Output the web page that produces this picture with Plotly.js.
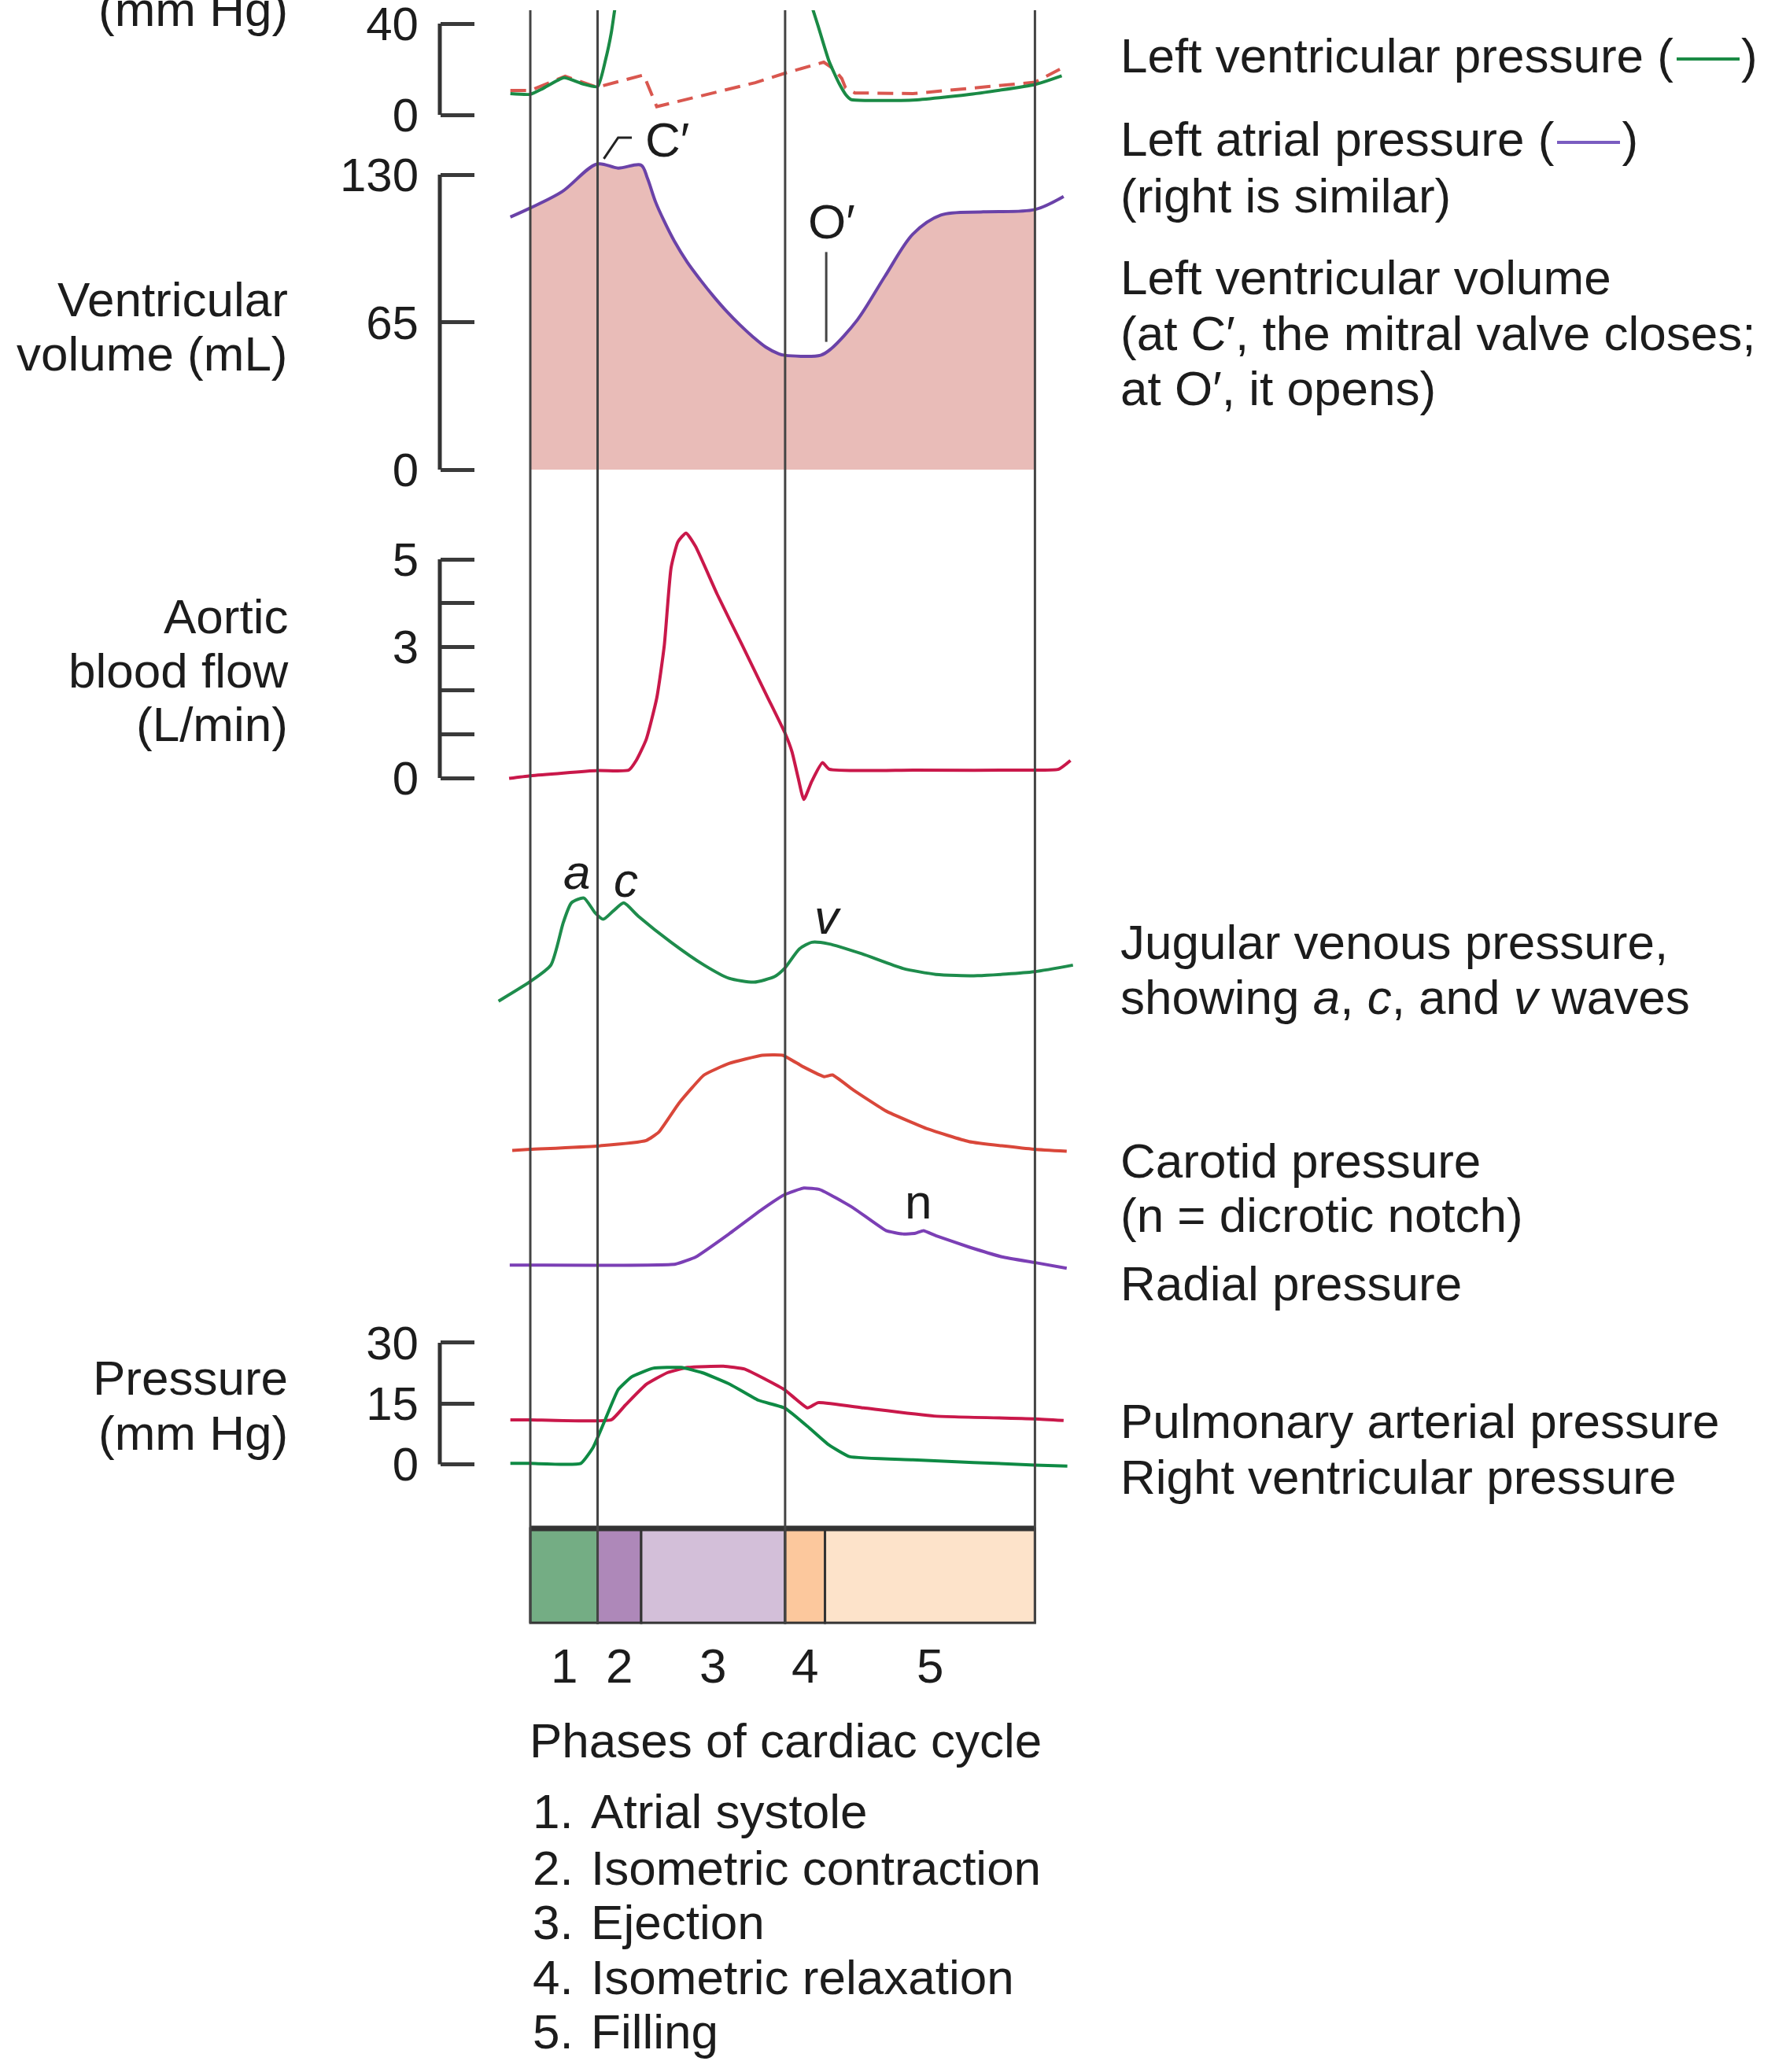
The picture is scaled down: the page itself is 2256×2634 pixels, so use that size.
<!DOCTYPE html>
<html><head><meta charset="utf-8">
<script src="https://cdn.plot.ly/plotly-3.0.1.min.js"></script>
<style>html,body{margin:0;padding:0;background:#fff}#chart{width:2256px;height:2634px}</style>
</head><body><div id="chart"></div>
<script>
// ---------- DATA (time in ms from start of atrial systole) ----------
const phaseBounds = [0, 108, 178, 409, 473, 810];
const phaseNums = ['1', '2', '3', '4', '5'];
const phaseNames = ['Atrial systole', 'Isometric contraction', 'Ejection', 'Isometric relaxation', 'Filling'];

// Left ventricular pressure (mm Hg)
const lvpT = [-32, 0, 20, 54, 85, 108, 121, 130, 136, 160, 200, 260, 330, 400, 435, 454, 462, 471, 479, 488, 496, 506, 515, 540, 614, 700, 810, 853];
const lvpV = [9.3, 9, 11.5, 16.3, 13.5, 12.4, 24.4, 36, 47, 85, 112, 122, 116, 96, 62, 45.8, 38.9, 30.8, 23.9, 18.2, 13.6, 9, 6.7, 6.3, 6.5, 8.8, 13.3, 17.1];
// Left atrial pressure (mm Hg)
const lapT = [-32, 0, 56, 107, 182, 203, 361, 408, 471, 488, 500, 506, 521, 614, 810, 850];
const lapV = [10.7, 10.7, 16.9, 12.1, 17.5, 3.6, 14.1, 18.2, 23.1, 19.9, 15.9, 11.8, 9.6, 9.3, 14.3, 20];
// Left ventricular volume (mL)
const volT = [-32, 0, 51, 107, 141, 178, 188, 201, 214, 231, 252, 273, 294, 315, 336, 357, 378, 399, 408, 466, 483, 525, 569, 614, 659, 727, 810, 856];
const volV = [111.3, 115.3, 122.5, 134.7, 132.9, 134.2, 128.4, 118, 110, 100.8, 91.4, 83.6, 76.4, 69.8, 63.9, 58.6, 54, 51, 50.4, 50.4, 53.3, 66, 85.1, 103.8, 112.2, 113.6, 114.6, 120.4];
// Aortic blood flow (L/min)
const aoT = [-34, 0, 108, 158, 170, 186, 203, 215, 226, 237, 250, 265, 300, 340, 380, 409, 420, 430, 439, 452, 469, 480, 616, 812, 848, 867];
const aoV = [-0.01, 0.05, 0.17, 0.18, 0.4, 0.88, 1.83, 3.02, 4.81, 5.4, 5.6, 5.3, 4.2, 3.04, 1.87, 1.02, 0.6, 0.0, -0.49, -0.07, 0.35, 0.2, 0.18, 0.18, 0.2, 0.4];
// Jugular venous pressure (relative units)
const jvpT = [-51, 0, 33, 53, 66, 86, 104, 117, 133, 150, 173, 226, 279, 319, 359, 392, 408, 432, 452, 479, 532, 598, 651, 718, 809, 871];
const jvpV = [0.24, 1.73, 2.97, 6.2, 7.68, 8.05, 6.93, 6.44, 7.06, 7.68, 6.69, 4.7, 2.97, 1.97, 1.68, 2.1, 2.72, 4.2, 4.7, 4.58, 3.83, 2.72, 2.27, 2.17, 2.47, 2.97];
// Carotid pressure (relative units)
const carT = [-29, 0, 106, 186, 206, 239, 279, 319, 372, 405, 438, 472, 485, 518, 571, 638, 704, 809, 861];
const carV = [0.95, 1.03, 1.28, 1.7, 2.32, 4.55, 6.66, 7.53, 8.15, 8.15, 7.28, 6.53, 6.66, 5.54, 3.93, 2.57, 1.62, 1.03, 0.88];
// Radial pressure (relative units)
const radT = [-33, 0, 233, 266, 319, 372, 408, 439, 465, 518, 571, 598, 618, 631, 651, 704, 757, 809, 861];
const radV = [1.27, 1.27, 1.35, 1.9, 3.63, 5.49, 6.6, 7.1, 6.98, 5.61, 3.88, 3.63, 3.68, 3.88, 3.5, 2.64, 1.9, 1.47, 1.03];
// Pulmonary arterial pressure (mm Hg)
const paT = [-32, 0, 130, 152, 186, 220, 253, 310, 344, 377, 408, 445, 462, 535, 648, 810, 856];
const paV = [10.97, 10.97, 10.97, 14.5, 19.7, 22.6, 23.9, 24.2, 23.5, 21, 18.4, 13.9, 15.2, 13.9, 11.9, 11.2, 10.8];
// Right ventricular pressure (mm Hg)
const rvT = [-32, 0, 81, 101, 121, 141, 163, 197, 242, 276, 321, 366, 408, 445, 479, 512, 614, 810, 862];
const rvV = [0.2, 0.2, 0.2, 4.2, 11.3, 18.4, 21.6, 23.7, 23.9, 22.6, 19.7, 15.8, 13.9, 9.35, 4.8, 1.9, 1.1, -0.2, -0.45];

// Tick values
const lvTicks = [0, 40];
const volTicks = [0, 65, 130];
const aoTicks = [0, 1, 2, 3, 4, 5];
const aoTickText = ['0', '', '', '3', '', '5'];
const pTicks = [0, 15, 30];

// ---------- LAYOUT ----------
const W = 2256, H = 2634;
const F = 'Liberation Sans, Arial, Helvetica, sans-serif';
const TXT = '#1c1c1c';
const FS = 62;
const TOP = 13; // figure content is cropped just below the top edge
const msPerPx = 810 / (1315.4 - 674);
const xRange = [-674 * msPerPx, (W - 674) * msPerPx];
const py = p => 1 - p / H;

function yax(v0, p0, v1, p1, top, bot) {
  const s = (v1 - v0) / (p0 - p1);
  return { domain: [1 - bot / H, 1 - top / H], range: [v0 - (bot - p0) * s, v0 + (p0 - top) * s] };
}
const tickAx = {
  anchor: 'free', position: 559 / W, side: 'left', ticks: 'inside', ticklen: 43, tickwidth: 5,
  tickcolor: '#3a3a3a', showline: false, showgrid: false, zeroline: false, ticklabeloverflow: 'allow',
  tickfont: { family: F, size: 60, color: TXT }, ticklabelstandoff: 27, fixedrange: true
};
const hidAx = { visible: false, showgrid: false, zeroline: false, fixedrange: true };

const sp = { shape: 'spline', smoothing: 0.6 };
const traces = [];
// volume fill (phases 1-5 only)
const fillIdx = volT.map((t, i) => i).filter(i => volT[i] >= phaseBounds[0] && volT[i] <= phaseBounds[5]);
traces.push({ x: fillIdx.map(i => volT[i]), y: fillIdx.map(i => volV[i]), yaxis: 'y2', mode: 'lines',
  line: { width: 0, shape: 'spline', smoothing: 0.9 }, fill: 'tozeroy', fillcolor: '#e9bcb8' });
traces.push({ x: volT, y: volV, yaxis: 'y2', mode: 'lines', line: { color: '#6a42a8', width: 4, shape: 'spline', smoothing: 0.9 } });
traces.push({ x: lapT, y: lapV, yaxis: 'y', mode: 'lines', line: { color: '#d9574f', width: 4, dash: '20px,11px' } });
traces.push({ x: lvpT, y: lvpV, yaxis: 'y', mode: 'lines', line: { color: '#1a8a45', width: 4, shape: 'spline', smoothing: 0.5 } });
traces.push({ x: aoT, y: aoV, yaxis: 'y3', mode: 'lines', line: { color: '#c9184a', width: 4, shape: 'spline', smoothing: 0.5 } });
traces.push({ x: jvpT, y: jvpV, yaxis: 'y4', mode: 'lines', line: { color: '#1e8c4c', width: 4, ...sp } });
traces.push({ x: carT, y: carV, yaxis: 'y5', mode: 'lines', line: { color: '#d9473a', width: 4, shape: 'spline', smoothing: 0.4 } });
traces.push({ x: radT, y: radV, yaxis: 'y6', mode: 'lines', line: { color: '#7b3fb5', width: 4, shape: 'spline', smoothing: 0.4 } });
traces.push({ x: paT, y: paV, yaxis: 'y7', mode: 'lines', line: { color: '#c9184a', width: 4, shape: 'spline', smoothing: 0.4 } });
traces.push({ x: rvT, y: rvV, yaxis: 'y7', mode: 'lines', line: { color: '#0e8a44', width: 4, shape: 'spline', smoothing: 0.4 } });

const shapes = [];
// axis brackets
[['y', lvTicks], ['y2', volTicks], ['y3', aoTicks], ['y7', pTicks]].forEach(([ax, tv]) => {
  shapes.push({ type: 'line', xref: 'paper', yref: ax, x0: 559 / W, x1: 559 / W, y0: Math.min(...tv), y1: Math.max(...tv),
    line: { color: '#333', width: 5 } });
});
// phase boxes
const phaseColors = ['#74ad84', '#ae88b9', '#d3bfd9', '#fcc89d', '#fde3ca'];
const barTop = 1943, barBot = 2063;
for (let i = 0; i < 5; i++) {
  shapes.push({ type: 'rect', xref: 'x', yref: 'paper', x0: phaseBounds[i], x1: phaseBounds[i + 1], y0: py(barBot), y1: py(barTop),
    fillcolor: phaseColors[i], line: { color: '#333', width: 3 }, layer: 'below' });
}
shapes.push({ type: 'line', xref: 'x', yref: 'paper', x0: phaseBounds[0], x1: phaseBounds[5], y0: py(barTop), y1: py(barTop),
  line: { color: '#333', width: 7 } });
// vertical phase lines
[0, 1, 3, 5].forEach(i => {
  shapes.push({ type: 'line', xref: 'x', yref: 'paper', x0: phaseBounds[i], x1: phaseBounds[i], y0: py(barBot), y1: py(TOP),
    line: { color: '#444', width: 3 } });
});
// C' and O' markers
shapes.push({ type: 'path', xref: 'x', yref: 'y2', path: 'M118,137 L141,146.3 L163,146.3', line: { color: '#222', width: 3 } });
shapes.push({ type: 'line', xref: 'x', yref: 'y2', x0: 475, x1: 475, y0: 95.9, y1: 56.3, line: { color: '#444', width: 3 } });
// legend swatches inside the right-hand labels
const swatch = (x0, x1, y, color) => shapes.push({ type: 'line', xref: 'paper', yref: 'paper', x0: x0 / W, x1: x1 / W,
  y0: py(y), y1: py(y), line: { color, width: 4 } });
swatch(2131, 2211, 75, '#1a8a45');
swatch(1979, 2059, 181, '#7a5cc0');

const annotations = [];
const ann = (text, x, y, xanchor, extra) => annotations.push(Object.assign({ text, x, y, xref: 'paper', yref: 'paper',
  xanchor, yanchor: 'middle', showarrow: false, font: { family: F, size: FS, color: TXT } }, extra || {}));

const NB5 = '\u00a0\u00a0\u00a0\u00a0\u00a0';
const rightLabels = [
  ["Left ventricular pressure (" + NB5 + ")", 71],
  ["Left atrial pressure (" + NB5 + ")", 177],
  ["(right is similar)", 248],
  ["Left ventricular volume", 353],
  ["(at C′, the mitral valve closes;", 423],
  ["at O′, it opens)", 494],
  ["Jugular venous pressure,", 1198],
  ["showing <i>a</i>, <i>c</i>, and <i>v</i> waves", 1267],
  ["Carotid pressure", 1475],
  ["(n = dicrotic notch)", 1544],
  ["Radial pressure", 1631],
  ["Pulmonary arterial pressure", 1806],
  ["Right ventricular pressure", 1877]
];
rightLabels.forEach(([t, y]) => ann(t, 1422 / W, py(y), 'left'));
const leftLabels = [["(mm Hg)", 12], ["Ventricular", 380], ["volume (mL)", 449], ["Aortic", 783], ["blood flow", 852],
  ["(L/min)", 921], ["Pressure", 1751], ["(mm Hg)", 1821]];
leftLabels.forEach(([t, y]) => ann(t, 368 / W, py(y), 'right'));

ann('Phases of cardiac cycle', 671 / W, py(2212), 'left');
const listY = [2302, 2374, 2443, 2513, 2582];
phaseNames.forEach((n, i) => ann((i + 1) + '.\u00a0\u200a' + n, 675 / W, py(listY[i]), 'left'));
phaseNums.forEach((n, i) => ann(n, (phaseBounds[i] + phaseBounds[i + 1]) / 2, py(2117), 'center', { xref: 'x' }));

// curve labels
ann('C′', 220, 145.6, 'center', { xref: 'x', yref: 'y2' });
ann('O′', 484, 109.4, 'center', { xref: 'x', yref: 'y2' });
ann('<i>a</i>', 74, 10.0, 'center', { xref: 'x', yref: 'y4' });
ann('<i>c</i>', 153, 9.4, 'center', { xref: 'x', yref: 'y4' });
ann('<i>v</i>', 477, 6.6, 'center', { xref: 'x', yref: 'y4' });
ann('n', 623, 6.1, 'center', { xref: 'x', yref: 'y6' });

const layout = {
  width: W, height: H, margin: { l: 0, r: 0, t: 0, b: 0, pad: 0 },
  paper_bgcolor: '#fff', plot_bgcolor: 'rgba(0,0,0,0)', showlegend: false,
  xaxis: { domain: [0, 1], range: xRange, visible: false, fixedrange: true },
  yaxis: Object.assign({}, tickAx, yax(0, 146, 40, 30, TOP, 178), { tickvals: lvTicks }),
  yaxis2: Object.assign({}, tickAx, yax(0, 597, 130, 222, 150, 640), { tickvals: volTicks }),
  yaxis3: Object.assign({}, tickAx, yax(0, 989, 5, 711, 660, 1050), { tickvals: aoTicks, ticktext: aoTickText }),
  yaxis4: Object.assign({}, hidAx, yax(0, 1276.8, 10, 1108.8, 1090, 1310)),
  yaxis5: Object.assign({}, hidAx, yax(0, 1478.4, 10, 1310.4, 1310, 1495)),
  yaxis6: Object.assign({}, hidAx, yax(0, 1629.6, 10, 1461.6, 1495, 1665)),
  yaxis7: Object.assign({}, tickAx, yax(0, 1861.4, 30, 1706.9, 1680, 1930), { tickvals: pTicks }),
  shapes, annotations
};
Plotly.newPlot('chart', traces, layout, { staticPlot: true, displayModeBar: false });
</script></body></html>
